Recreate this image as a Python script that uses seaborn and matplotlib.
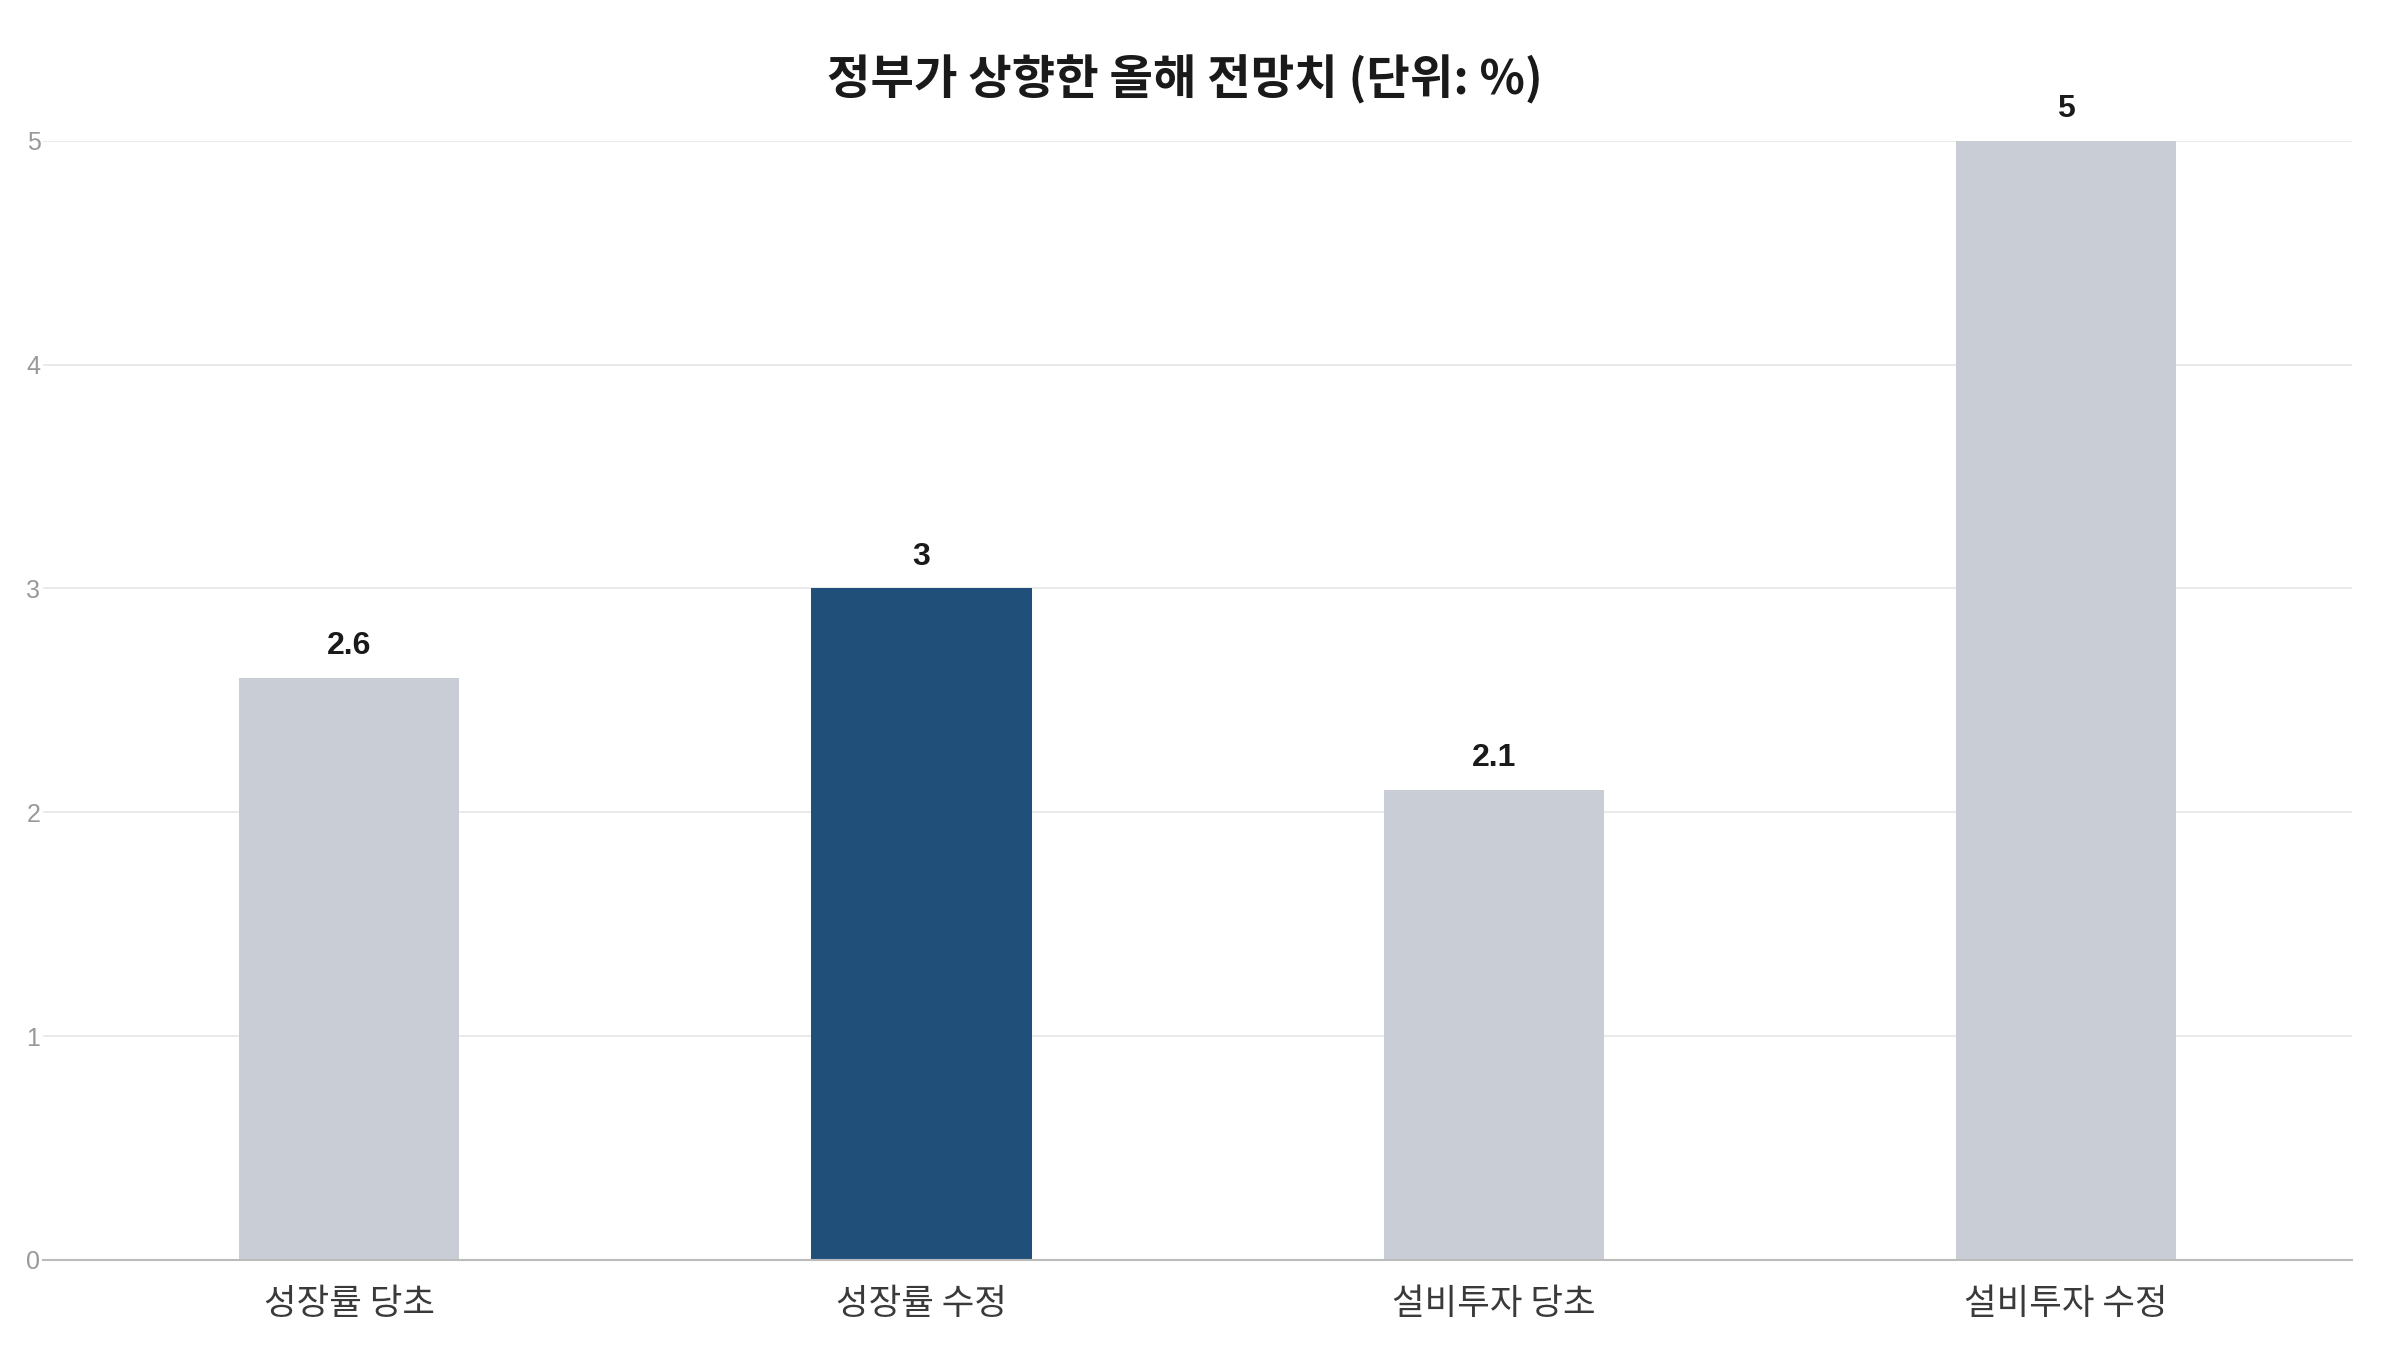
import matplotlib
matplotlib.use("Agg")
import matplotlib.pyplot as plt
import seaborn as sns
import pandas as pd

categories = ["성장률 당초", "성장률 수정", "설비투자 당초", "설비투자 수정"]
values = [2.6, 3, 2.1, 5]
value_labels = ["2.6", "3", "2.1", "5"]
colors = ["#C9CDD5", "#204F7A", "#C9CDD5", "#C9CDD5"]
title = "정부가 상향한 올해 전망치 (단위: %)"
yticks = [0, 1, 2, 3, 4, 5]

sns.set_theme(style="white")
plt.rcParams['font.family'] = ['Noto Sans CJK KR', 'DejaVu Sans']

df = pd.DataFrame({"cat": categories, "val": values})

fig = plt.figure(figsize=(24, 13.5), dpi=100)
ax = fig.add_axes([0.018, 0.0667, 0.962, 0.829])

sns.barplot(data=df, x="cat", y="val", hue="cat", palette=colors, width=0.385,
            legend=False, ax=ax, saturation=1, edgecolor="none")

ax.set_xlim(-0.535, 3.5)
ax.set_ylim(0, 5)
ax.set_yticks(yticks)
ax.set_yticklabels([str(t) for t in yticks], fontfamily=['Liberation Sans'], fontsize=18, color="#999999")
ax.tick_params(axis='y', length=0, pad=2)
ax.tick_params(axis='x', length=0, pad=19, labelsize=25.5, labelcolor="#3A3A3A")
ax.set_xlabel("")
ax.set_ylabel("")
ax.grid(axis='y', color="#E6E6E6", linewidth=1.2)
ax.set_axisbelow(True)
for s in ["top", "right", "left"]:
    ax.spines[s].set_visible(False)
ax.spines["bottom"].set_color("#BBBBBB")
ax.spines["bottom"].set_linewidth(1.5)

for container in ax.containers:
    for bar in container:
        idx = int(round(bar.get_x() + bar.get_width() / 2))
        ax.annotate(value_labels[idx], (bar.get_x() + bar.get_width() / 2, bar.get_height()),
                    xytext=(0, 12), textcoords="offset points", ha="center", va="bottom",
                    fontsize=23, fontweight="bold", color="#1A1A1A",
                    fontfamily=['Liberation Sans'], annotation_clip=False)

fig.text(0.4936, 0.941, title, ha="center", va="center", fontsize=34, fontweight="bold", color="#1A1A1A")

fig.savefig("out.png", dpi=100, facecolor="white")
